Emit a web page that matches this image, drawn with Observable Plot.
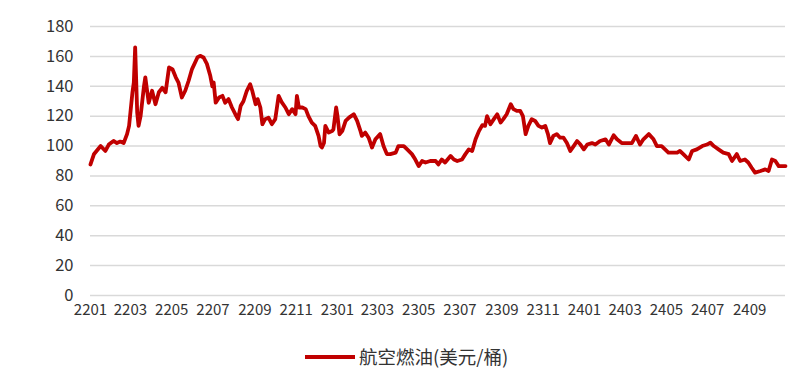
<!DOCTYPE html>
<html>
<head>
<meta charset="utf-8">
<script src="https://cdn.jsdelivr.net/npm/d3@7"></script>
<script src="https://cdn.jsdelivr.net/npm/@observablehq/plot@0.6"></script>
<style>
  html, body { margin: 0; padding: 0; background: #fff; }
  body { width: 797px; height: 371px; overflow: hidden; font-family: "Noto Sans CJK SC", "Noto Sans", sans-serif; }
  #legend { position: relative; height: 41px; }
  #legend .swatch { position: absolute; left: 305px; top: 25px; width: 50px; height: 4px; background: #c00000; }
  #legend .label { position: absolute; left: 359px; top: 14px; font-size: 18.5px; color: #333; line-height: 24px; }
</style>
</head>
<body>
<div id="chart"></div>
<div id="legend"><div class="swatch"></div><div class="label">航空燃油(美元/桶)</div></div>
<script>
// Series name
const seriesName = "航空燃油(美元/桶)";
// Start of the series
const startDate = "2022-01-01";
// Days after the start date for each reading
const dayOffsets = [
  0, 5, 15, 22, 27, 34, 39, 44, 49, 54, 57, 62, 64, 66, 69, 71, 74, 79, 81, 86,
  91, 96, 101, 106, 111, 116, 121, 126, 130, 135, 140, 145, 150, 158, 162, 167, 172, 177, 180, 182,
  185, 190, 195, 199, 204, 209, 214, 218, 222, 226, 231, 236, 239, 244, 247, 251, 254, 258, 263, 268,
  273, 278, 283, 288, 293, 298, 303, 305, 308, 313, 318, 322, 327, 332, 337, 340, 342, 345, 347, 352,
  357, 359, 363, 365, 368, 372, 377, 382, 389, 394, 399, 401, 406, 411, 416, 421, 428, 433, 438, 443,
  451, 455, 463, 468, 475, 480, 485, 490, 495, 502, 510, 514, 519, 524, 532, 537, 542, 549, 554, 559,
  564, 569, 574, 579, 583, 586, 591, 596, 601, 606, 610, 615, 621, 625, 630, 635, 639, 643, 647, 652,
  657, 662, 667, 672, 676, 679, 684, 689, 694, 699, 704, 709, 714, 719, 724, 729, 734, 741, 746, 753,
  761, 766, 773, 778, 785, 793, 800, 806, 812, 817, 825, 832, 837, 844, 854, 859, 867, 871, 876, 884,
  889, 896, 904, 911, 916, 921, 928, 935, 943, 948, 955, 960, 967, 972, 977, 982, 990, 997, 1002, 1007,
  1012, 1017, 1024, 1027
];
// Jet fuel price, USD/barrel
const prices = [
  87.7, 94.5, 100, 96.7, 101, 103.4, 102, 103, 102, 108, 113.5, 136, 142.5, 166, 122.4, 113.5, 120, 140, 146, 129,
  137, 128, 136, 139, 136, 152.6, 151.5, 146, 142.5, 132.5, 137, 143.7, 151.5, 159.3, 160.4, 159.3, 155, 147, 140, 142.5,
  129, 132.5, 133.6, 129, 131.4, 125.8, 121.3, 118, 127, 130, 137, 141.4, 137, 128, 131.4, 125.8, 114.6, 118, 119, 114.6,
  118, 133.6, 129, 125.8, 121.3, 124.7, 121.3, 133.6, 125.8, 125.8, 124.7, 120, 115.7, 113.5, 106.8, 100, 99, 102, 113.5, 109,
  110, 111.2, 125.8, 120, 107.9, 110, 116.8, 119, 121.3, 116.8, 110, 106.8, 109, 105.6, 99, 104.5, 108, 100, 94.6, 94.6,
  95.6, 100, 100, 97.8, 94.6, 91, 86.6, 90, 89, 90, 90, 87.7, 91, 89, 93.4, 91, 90, 91, 94.6, 97.8,
  96.7, 104.5, 110, 114, 113.5, 120, 114.6, 118, 121.3, 115.7, 118, 121.3, 128, 124.7, 123.5, 123.5, 120, 108, 113.5, 118,
  116.8, 113.5, 112.4, 113.5, 108, 102, 106.8, 108, 105.6, 105.6, 102, 96.7, 100, 103.4, 101, 97.8, 101, 102, 101, 103.4,
  104.5, 101, 107.2, 104.5, 102, 102, 102, 106.8, 101, 104.5, 108, 104.5, 100, 100, 95.6, 95.6, 95.6, 96.7, 94.6, 91,
  96.7, 97.8, 100, 101, 102.3, 100, 97.8, 95.6, 94.6, 90, 94.6, 90, 91, 89, 85.5, 82.2, 83.3, 84.4, 83.3, 91,
  90, 86.6, 86.6, 86.6
];
// x-axis tick labels (yymm)
const xTickLabels = ["2201","2203","2205","2207","2209","2211","2301","2303","2305","2307","2309","2311","2401","2403","2405","2407","2409"];
// y-axis ticks
const yTicks = [0, 20, 40, 60, 80, 100, 120, 140, 160, 180];

const start = new Date(startDate + "T00:00:00Z");
const data = dayOffsets.map((d, i) => ({ date: d3.utcDay.offset(start, d), value: prices[i], series: seriesName }));
const parseYM = d3.utcParse("%y%m");
const xTicks = xTickLabels.map(parseYM);

const chart = Plot.plot({
  width: 797,
  height: 330,
  marginLeft: 90,
  marginRight: 12,
  marginTop: 26,
  marginBottom: 35,
  style: { fontFamily: "'Noto Sans CJK SC', 'Noto Sans', sans-serif", background: "#fff", color: "#333" },
  x: {
    type: "utc",
    domain: [start, d3.utcDay.offset(start, dayOffsets[dayOffsets.length - 1])],
    ticks: xTicks,
    tickFormat: d3.utcFormat("%y%m"),
    tickSize: 0,
    tickPadding: 9,
    label: null
  },
  y: {
    domain: [0, 180],
    ticks: yTicks,
    tickSize: 0,
    tickPadding: 17,
    label: null
  },
  marks: [
    Plot.gridY(yTicks, { stroke: "#d9d9d9", strokeOpacity: 1, strokeWidth: 1.5 }),
    Plot.axisY(yTicks, { tickSize: 0, tickPadding: 17, fontSize: 16.5, fill: "#333", label: null }),
    Plot.axisX(xTicks, { tickSize: 0, tickPadding: 9, fontSize: 15, fill: "#333", tickFormat: d3.utcFormat("%y%m"), label: null }),
    Plot.lineY(data, { x: "date", y: "value", stroke: "#c00000", strokeWidth: 3.8, strokeLinejoin: "round" })
  ]
});
document.getElementById("chart").appendChild(chart);
</script>
</body>
</html>
